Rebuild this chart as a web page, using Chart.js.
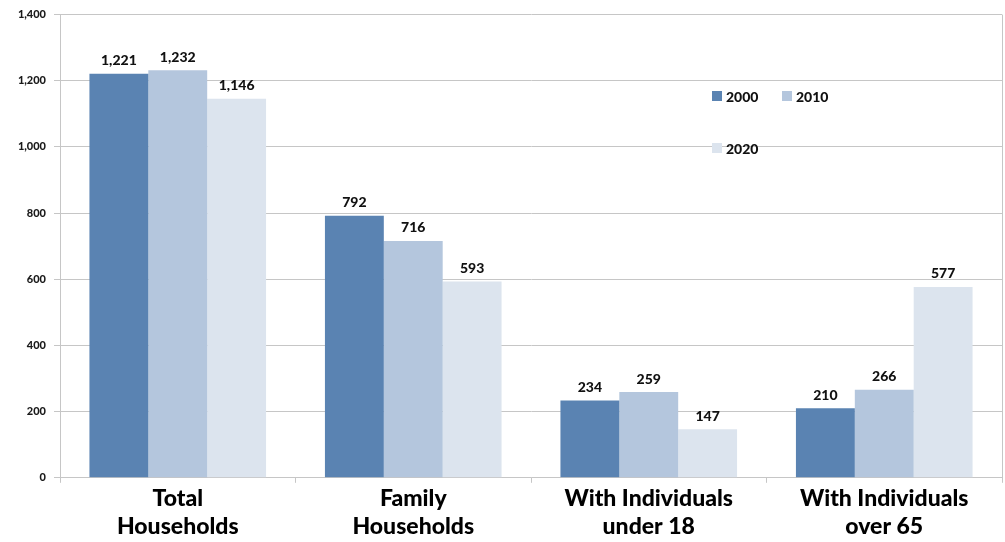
<!DOCTYPE html>
<html>
<head>
<meta charset="utf-8">
<script src="https://cdn.jsdelivr.net/npm/chart.js@4/dist/chart.umd.min.js"></script>
<style>
  html, body { margin: 0; padding: 0; background: #fff; }
  #wrap { width: 1005px; height: 542px; position: relative; }
</style>
</head>
<body>
<div id="wrap"><canvas id="chart"></canvas></div>
<script>
// Hogares por tipo, censos 2000 / 2010 / 2020
const categories = [
  ['Total', 'Households'],
  ['Family', 'Households'],
  ['With Individuals', 'under 18'],
  ['With Individuals', 'over 65']
];
const years = ['2000', '2010', '2020'];
const values2000 = [1221, 792, 234, 210];
const values2010 = [1232, 716, 259, 266];
const values2020 = [1146, 593, 147, 577];
const yTicks = [0, 200, 400, 600, 800, 1000, 1200, 1400];

const colors = ['#5a83b2', '#b4c6dd', '#dce4ee'];
const fmt = v => v.toLocaleString('en-US');

// Etiquetas de valor encima de cada barra
const valueLabels = {
  id: 'valueLabels',
  afterDatasetsDraw(chart) {
    const ctx = chart.ctx;
    ctx.save();
    ctx.font = '900 14px Lato';
    ctx.fillStyle = '#111';
    ctx.textAlign = 'center';
    ctx.textBaseline = 'bottom';
    chart.data.datasets.forEach((ds, i) => {
      chart.getDatasetMeta(i).data.forEach((bar, j) => {
        ctx.fillText(fmt(ds.data[j]), bar.x, bar.y - 6);
      });
    });
    ctx.restore();
  }
};

// Leyenda dentro del área del gráfico
const insideLegend = {
  id: 'insideLegend',
  afterDraw(chart) {
    const ctx = chart.ctx;
    const spots = [[712, 96], [782, 96], [712, 148]];
    ctx.save();
    ctx.font = '900 14px Lato';
    ctx.textBaseline = 'middle';
    chart.data.datasets.forEach((ds, i) => {
      const [x, y] = spots[i];
      ctx.fillStyle = ds.backgroundColor;
      ctx.fillRect(x, y - 5, 10, 10);
      ctx.fillStyle = '#111';
      ctx.fillText(ds.label, x + 14, y + 1);
    });
    ctx.restore();
  }
};

// Borde derecho del área
const rightBorder = {
  id: 'rightBorder',
  beforeDatasetsDraw(chart) {
    const { ctx, chartArea } = chart;
    ctx.save();
    ctx.strokeStyle = '#c6c6c6';
    ctx.lineWidth = 1;
    ctx.beginPath();
    ctx.moveTo(Math.round(chartArea.right) + 0.5, chartArea.top);
    ctx.lineTo(Math.round(chartArea.right) + 0.5, chartArea.bottom);
    ctx.stroke();
    ctx.restore();
  }
};

new Chart(document.getElementById('chart'), {
  type: 'bar',
  data: {
    labels: categories,
    datasets: [
      { label: years[0], data: values2000, backgroundColor: colors[0] },
      { label: years[1], data: values2010, backgroundColor: colors[1] },
      { label: years[2], data: values2020, backgroundColor: colors[2] }
    ]
  },
  options: {
    responsive: true,
    maintainAspectRatio: false,
    animation: false,
    layout: { padding: { top: 10, right: 3, left: 0, bottom: 0 } },
    datasets: { bar: { categoryPercentage: 0.75, barPercentage: 1 } },
    plugins: {
      legend: { display: false },
      tooltip: { enabled: false }
    },
    scales: {
      x: {
        grid: { drawOnChartArea: false, drawTicks: true, tickLength: 5, color: '#c6c6c6', offset: true },
        border: { color: '#c6c6c6' },
        ticks: {
          color: '#000',
          font: { family: 'Lato', weight: '900', size: 23 },
          padding: 2,
          maxRotation: 0
        }
      },
      y: {
        min: 0,
        max: 1400,
        afterBuildTicks: axis => { axis.ticks = yTicks.map(v => ({ value: v })); },
        afterFit: axis => { axis.width = 60; },
        grid: { color: '#c6c6c6', tickLength: 6 },
        border: { color: '#c6c6c6' },
        ticks: {
          color: '#1a1a1a',
          font: { family: 'Lato', weight: '900', size: 11 },
          padding: 8,
          callback: v => fmt(v)
        }
      }
    }
  },
  plugins: [valueLabels, insideLegend, rightBorder]
});
</script>
</body>
</html>
